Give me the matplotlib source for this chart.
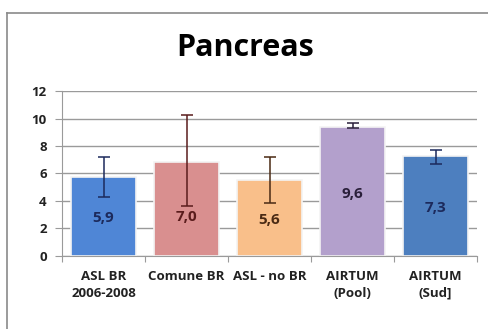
import matplotlib.pyplot as plt
from matplotlib.lines import Line2D

categories = ["ASL BR\n2006-2008", "Comune BR", "ASL - no BR", "AIRTUM\n(Pool)", "AIRTUM\n(Sud]"]
heights = [5.75, 6.85, 5.5, 9.4, 7.25]
err_low = [4.3, 3.65, 3.85, 9.3, 6.7]
err_high = [7.2, 10.25, 7.2, 9.7, 7.7]
value_labels = ["5,9", "7,0", "5,6", "9,6", "7,3"]
yticks = [0, 2, 4, 6, 8, 10, 12]

bar_colors = ["#4f86d6", "#d98f8f", "#f9bf8a", "#b3a0cc", "#4d7fbf"]
text_colors = ["#1c2a5c", "#5a1c1c", "#4a2a14", "#2a1f3a", "#1c2a5c"]

plt.rcParams['font.family'] = ['Open Sans', 'DejaVu Sans']

fig = plt.figure(figsize=(4.89, 3.29), dpi=100)
ax = fig.add_axes([0.1268, 0.2219, 0.8487, 0.5015])

x = list(range(len(categories)))
ax.bar(x, heights, width=0.78, color=bar_colors, edgecolor="#f4f4f4", linewidth=1.2, zorder=2)
for i in x:
    lo = heights[i] - err_low[i]
    hi = err_high[i] - heights[i]
    ax.errorbar(i, heights[i], yerr=[[lo], [hi]], fmt="none", ecolor=text_colors[i],
                elinewidth=1.1, capsize=4, capthick=1.1, zorder=3)
    # Excel-style centred data label, sitting a bit below mid-bar
    ax.text(i, min(heights[i] * 0.48, 2.8) if i < 3 else heights[i] * 0.48,
            value_labels[i], ha="center", va="center",
            fontsize=11, fontweight="bold", color=text_colors[i], zorder=4)

ax.set_xlim(-0.5, 4.5)
ax.set_ylim(0, 12)
ax.set_yticks(yticks)
ax.set_yticklabels([str(t) for t in yticks], fontsize=9.5, fontweight="bold", color="#222222")
ax.yaxis.grid(True, color="#9a9a9a", linewidth=1.0, zorder=0)
ax.set_axisbelow(True)
ax.tick_params(axis="y", length=5, color="#9a9a9a", pad=6)

ax.set_xticks([i + 0.5 for i in range(-1, 5)], minor=False)
ax.set_xticklabels([""] * 6)
ax.tick_params(axis="x", length=4, color="#9a9a9a", direction="out")
for i, c in enumerate(categories):
    ax.text(i, -1.0, c, ha="center", va="top", fontsize=9.5, fontweight="bold",
            color="#222222", linespacing=1.4)

for s in ["top", "right"]:
    ax.spines[s].set_visible(False)
ax.spines["left"].set_color("#9a9a9a")
ax.spines["bottom"].set_color("#9a9a9a")

fig.text(0.501, 0.855, "Pancreas", ha="center", va="center", fontsize=22, fontweight="bold")

fig.add_artist(Line2D([7 / 489, 7 / 489], [0, 1 - 12.5 / 329], transform=fig.transFigure,
                      color="#8a8a8a", linewidth=1.2))
fig.add_artist(Line2D([7 / 489, 1], [1 - 12.5 / 329, 1 - 12.5 / 329], transform=fig.transFigure,
                      color="#8a8a8a", linewidth=1.2))

fig.savefig("out.png", dpi=100)
